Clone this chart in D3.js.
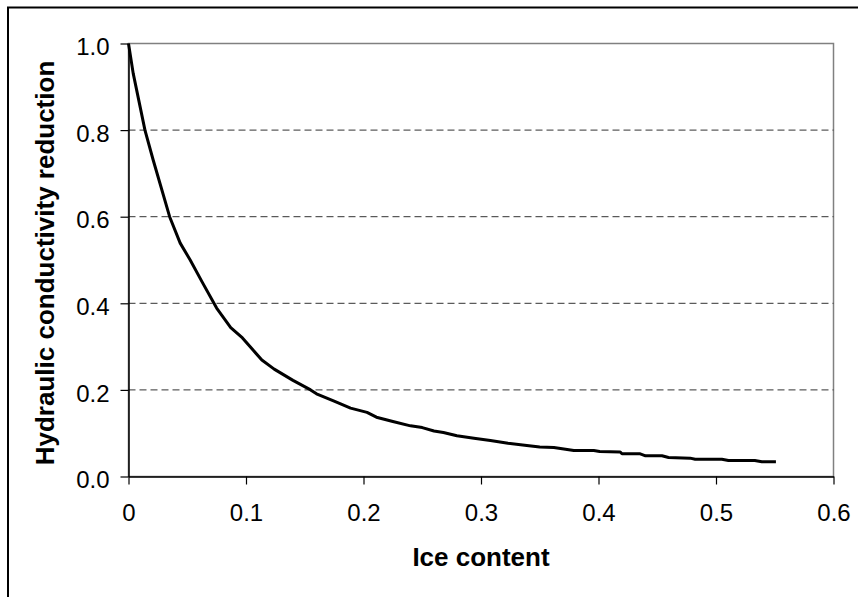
<!DOCTYPE html>
<html>
<head>
<meta charset="utf-8">
<script src="https://cdn.jsdelivr.net/npm/d3@7"></script>
<style>
  body { margin: 0; background: #fff; }
  svg text { font-family: "Liberation Sans", Arial, sans-serif; fill: #000; }
</style>
</head>
<body>
<div id="chart"></div>
<script>
// values
const iceContent = [0, 0.004, 0.014, 0.021, 0.035, 0.044, 0.0525, 0.0625, 0.075, 0.087,
  0.097, 0.106, 0.1135, 0.124, 0.14, 0.155, 0.16, 0.175, 0.189, 0.203,
  0.211, 0.225, 0.24, 0.25, 0.26, 0.268, 0.2795, 0.294, 0.308, 0.323,
  0.339, 0.35, 0.362, 0.379, 0.396, 0.401, 0.4185, 0.42, 0.4355, 0.44,
  0.454, 0.4596, 0.478, 0.4823, 0.505, 0.5106, 0.533, 0.539, 0.551];
const reduction = [1.0, 0.931, 0.8, 0.731, 0.6, 0.539, 0.5, 0.45, 0.389, 0.344,
  0.32, 0.292, 0.269, 0.248, 0.222, 0.2, 0.191, 0.174, 0.158, 0.148,
  0.137, 0.127, 0.117, 0.113, 0.105, 0.1016, 0.094, 0.0885, 0.083, 0.077,
  0.0716, 0.068, 0.067, 0.06, 0.06, 0.0577, 0.0565, 0.0524, 0.0524, 0.0478,
  0.0478, 0.044, 0.0424, 0.04, 0.04, 0.037, 0.037, 0.034, 0.034];
const xTicks = [0, 0.1, 0.2, 0.3, 0.4, 0.5, 0.6];
const yTicks = [0, 0.2, 0.4, 0.6, 0.8, 1.0];
const xTitle = 'Ice content';
const yTitle = 'Hydraulic conductivity reduction';

(function(){
  let W = 858, H = 597,
      margin = {top: 43.5, left: 128.5, right: 24.5, bottom: 120.5},
      width = W - margin.left - margin.right,
      height = H - margin.top - margin.bottom;

  let root = d3.select('#chart').append('svg')
    .attr('width', W)
    .attr('height', H);

  // outer chart border (runs off the right and bottom edges)
  root.append('rect')
    .attr('x', 8).attr('y', 7.5)
    .attr('width', 900).attr('height', 700)
    .attr('fill', 'none')
    .attr('stroke', '#000')
    .attr('stroke-width', 2);

  let svg = root.append('g')
    .attr('transform', 'translate(' + margin.left + ',' + margin.top + ')');

  let x = d3.scaleLinear().domain([0, 0.6]).range([0, width]);
  let y = d3.scaleLinear().domain([0, 1]).range([height, 0]);

  // plot area frame
  svg.append('rect')
    .attr('width', width).attr('height', height)
    .attr('fill', 'none')
    .attr('stroke', '#808080')
    .attr('stroke-width', 1.5);

  // dashed grid
  svg.append('g')
    .selectAll('line')
    .data(yTicks.filter(d => d > 0 && d < 1))
    .enter().append('line')
      .attr('x1', 0).attr('x2', width)
      .attr('y1', d => y(d)).attr('y2', d => y(d))
      .attr('stroke', '#333')
      .attr('stroke-width', 1)
      .attr('stroke-dasharray', '7,4');

  let xAxis = svg.append('g')
    .attr('transform', 'translate(0,' + height + ')')
    .call(d3.axisBottom(x)
      .tickValues(xTicks)
      .tickSize(8)
      .tickPadding(12)
      .tickSizeOuter(0)
      .tickFormat(d => d === 0 ? '0' : d3.format('.1f')(d)));

  let yAxis = svg.append('g')
    .call(d3.axisLeft(y)
      .tickValues(yTicks)
      .tickSize(8)
      .tickPadding(11)
      .tickSizeOuter(0)
      .tickFormat(d3.format('.1f')));

  [xAxis, yAxis].forEach(g => {
    g.select('.domain').attr('stroke', '#000').attr('stroke-width', 1.5);
    g.selectAll('.tick line').attr('stroke', '#000').attr('stroke-width', 1.2);
    g.selectAll('text')
      .attr('font-size', 24)
      .attr('font-family', '"Liberation Sans", Arial, sans-serif')
      .attr('fill', '#000');
  });
  xAxis.selectAll('text').attr('dy', '1.04em');
  yAxis.selectAll('text').attr('dy', '0.47em');

  // curve
  let pts = iceContent.map((d, i) => [d, reduction[i]]);
  svg.append('path')
    .datum(pts)
    .attr('fill', 'none')
    .attr('stroke', '#000')
    .attr('stroke-width', 3)
    .attr('stroke-linejoin', 'round')
    .attr('d', d3.line().x(d => x(d[0])).y(d => y(d[1])));

  // axis titles
  root.append('text')
    .attr('x', margin.left + width / 2)
    .attr('y', 566)
    .attr('text-anchor', 'middle')
    .attr('font-size', 26)
    .attr('font-weight', 'bold')
    .text(xTitle);

  root.append('text')
    .attr('transform', 'translate(53.5,' + (margin.top + height / 2 + 3) + ') rotate(-90)')
    .attr('text-anchor', 'middle')
    .attr('font-size', 26)
    .attr('font-weight', 'bold')
    .text(yTitle);
})();
</script>
</body>
</html>
